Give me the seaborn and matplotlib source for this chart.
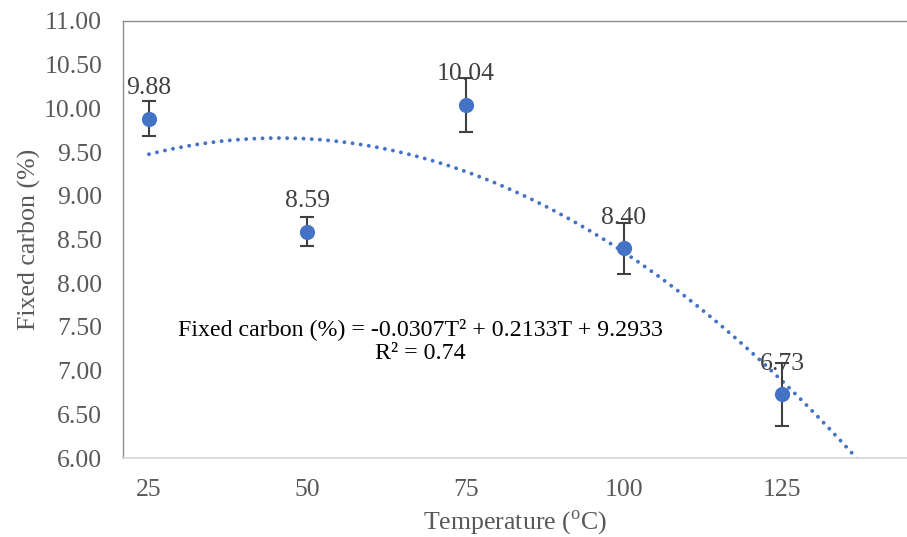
import numpy as np
import matplotlib
matplotlib.use('Agg')
import matplotlib.pyplot as plt
import seaborn as sns

# data
temps = [25, 50, 75, 100, 125]
fixed_carbon = [9.88, 8.59, 10.04, 8.40, 6.73]
err = [0.20, 0.17, 0.31, 0.29, 0.36]
point_labels = ['9.88', '8.59', '10.04', '8.40', '6.73']
x_ticks = [25, 50, 75, 100, 125]
y_ticks = [6.0, 6.5, 7.0, 7.5, 8.0, 8.5, 9.0, 9.5, 10.0, 10.5, 11.0]
equation = 'Fixed carbon (%) = -0.0307T\u00b2 + 0.2133T + 9.2933\nR\u00b2 = 0.74'

sns.set_style("white")
plt.rcParams['font.family'] = ['Liberation Serif', 'DejaVu Serif']
plt.rcParams['mathtext.fontset'] = 'custom'
plt.rcParams['mathtext.rm'] = 'Liberation Serif'

blue = '#4472C4'
grey_txt = '#595959'

fig = plt.figure(figsize=(9.07, 5.37), dpi=100)
ax = fig.add_axes([0.1356, 0.1471, 0.8644, 0.8138])

# polynomial (order 2) trendline, forecast one step forward like Excel
coef = np.polyfit(temps, fixed_carbon, 2)
tx = np.linspace(min(temps), max(temps) + 25, 200)
ty = np.polyval(coef, tx)
sns.lineplot(x=tx, y=ty, ax=ax, color=blue, linewidth=2.8,
             linestyle=(0, (0.01, 2.1)), dash_capstyle='round', zorder=2)

# error bars + points
ax.errorbar(temps, fixed_carbon, yerr=err, fmt='none', ecolor='#404040',
            elinewidth=1.5, capsize=5, capthick=1.5, zorder=3)
sns.scatterplot(x=temps, y=fixed_carbon, ax=ax, s=120, color=blue,
                edgecolor=blue, linewidth=0, zorder=4)

for x, y, lab in zip(temps, fixed_carbon, point_labels):
    ax.annotate(lab, (x, y), xytext=(0, 22), textcoords='offset points',
                ha='center', va='center', fontsize=18.5, color='#404040', zorder=5)

ax.text(0.379, 0.268, equation, transform=ax.transAxes, ha='center', va='center',
        multialignment='center', fontsize=17.2, color='black', linespacing=1.15)

ax.set_xlim(20.9, 144.7)
ax.set_ylim(6, 11)
ax.set_xticks(x_ticks)
ax.set_xticklabels([str(t) for t in x_ticks])
ax.set_yticks(y_ticks)
ax.set_yticklabels([f'{v:.2f}' for v in y_ticks])
ax.tick_params(axis='both', length=0, labelsize=18.5, colors=grey_txt)
ax.tick_params(axis='y', pad=15)
ax.tick_params(axis='x', pad=15)

ax.set_xlabel('Temperature ($^{\\mathrm{o}}$C)', fontsize=18.6, color=grey_txt, labelpad=5)
ax.set_ylabel('Fixed carbon (%)', fontsize=18.6, color=grey_txt, labelpad=2)

for side in ['top', 'left']:
    ax.spines[side].set_color('#8c8c8c')
    ax.spines[side].set_linewidth(1.0)
ax.spines['bottom'].set_color('#d9d9d9')
ax.spines['bottom'].set_linewidth(1.3)
ax.spines['right'].set_visible(False)

fig.savefig('out.png', dpi=100)
